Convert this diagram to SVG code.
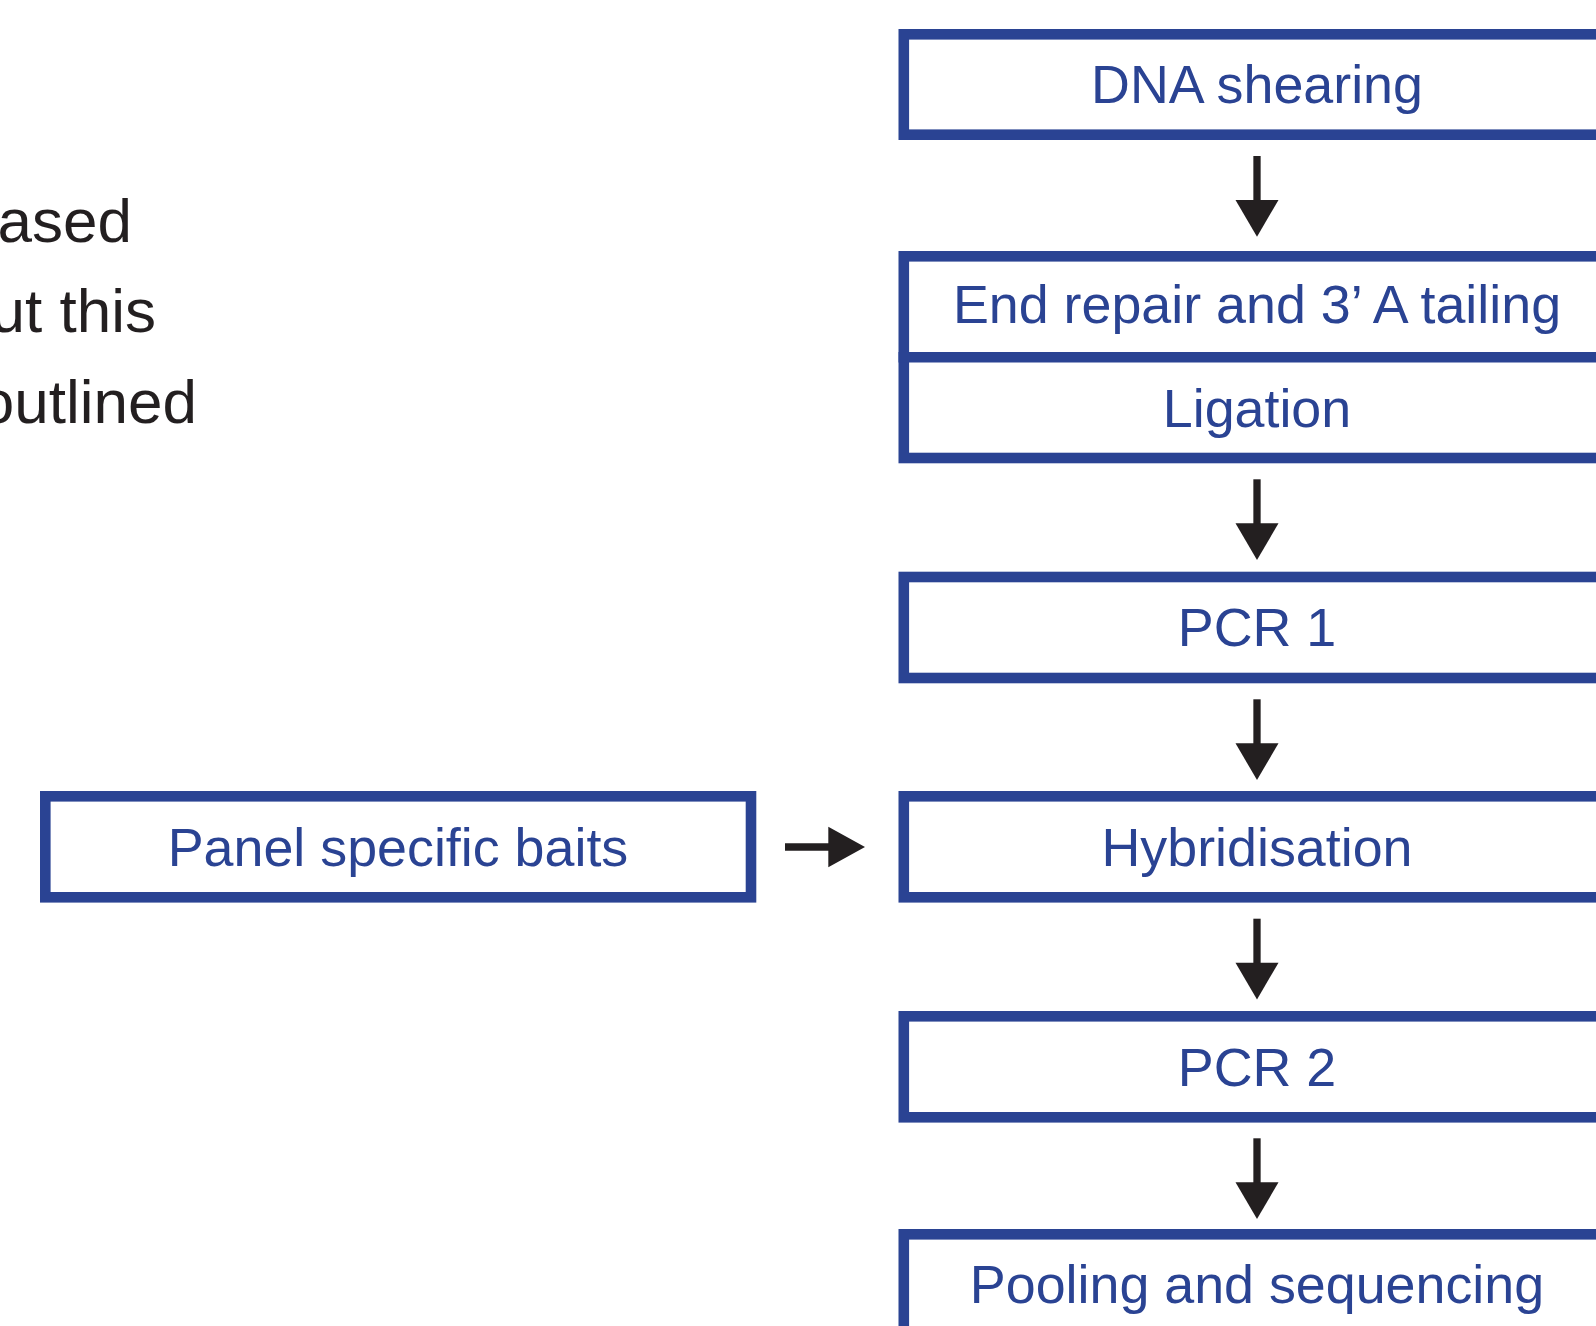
<svg xmlns="http://www.w3.org/2000/svg" width="1596" height="1326" viewBox="0 0 1596 1326">
  <style>
    .box { fill: #ffffff; stroke: #2a4393; stroke-width: 10.6; }
    .label { font-family: "Liberation Sans", Arial, Helvetica, sans-serif; font-size: 53.8px; fill: #2a4393; text-anchor: middle; }
    .side { font-family: "Liberation Sans", Arial, Helvetica, sans-serif; font-size: 62px; fill: #231f20; text-anchor: end; }
    .shaft { stroke: #231f20; stroke-width: 7.3; fill: none; }
    .head { fill: #231f20; }
  </style>

  <rect width="1596" height="1326" fill="#ffffff"/>

  <!-- paragraph text running in from the left edge -->
  <g id="side-text">
    <text class="side" x="132" y="241.5">ased</text>
    <text class="side" x="156" y="331.5">ut this</text>
    <text class="side" x="197" y="423">outlined</text>
  </g>

  <!-- workflow steps -->
  <g id="dna-shearing">
    <rect class="box" x="903.8" y="34.3" width="800" height="100.4"/>
    <text class="label" x="1257" y="103.3">DNA shearing</text>
  </g>

  <g id="end-repair-ligation">
    <rect class="box" x="903.8" y="256.3" width="800" height="201.7"/>
    <line x1="898.5" y1="357.2" x2="1596" y2="357.2" stroke="#2a4393" stroke-width="10.6"/>
    <text class="label" x="1257" y="322.5">End repair and 3’ A tailing</text>
    <text class="label" x="1257" y="426.7">Ligation</text>
  </g>

  <g id="pcr-1">
    <rect class="box" x="903.8" y="577" width="800" height="101"/>
    <text class="label" x="1257" y="646.3">PCR 1</text>
  </g>

  <g id="hybridisation">
    <rect class="box" x="903.8" y="796.3" width="800" height="101"/>
    <text class="label" x="1257" y="866">Hybridisation</text>
  </g>

  <g id="panel-baits">
    <rect class="box" x="45.3" y="796.3" width="705.7" height="101"/>
    <text class="label" x="398" y="866">Panel specific baits</text>
  </g>

  <g id="pcr-2">
    <rect class="box" x="903.8" y="1016.3" width="800" height="101"/>
    <text class="label" x="1257" y="1085.7">PCR 2</text>
  </g>

  <g id="pooling-sequencing">
    <rect class="box" x="903.8" y="1234.3" width="800" height="200"/>
    <text class="label" x="1257" y="1302.5">Pooling and sequencing</text>
  </g>

  <!-- connectors -->
  <g id="connectors">
    <line class="shaft" x1="1257" y1="156" x2="1257" y2="202"/>
    <polygon class="head" points="1235.5,200 1278.5,200 1257,236.7"/>

    <line class="shaft" x1="1257" y1="479.3" x2="1257" y2="525.3"/>
    <polygon class="head" points="1235.5,523.3 1278.5,523.3 1257,560"/>

    <line class="shaft" x1="1257" y1="699.3" x2="1257" y2="745.3"/>
    <polygon class="head" points="1235.5,743.3 1278.5,743.3 1257,780"/>

    <line class="shaft" x1="1257" y1="918.7" x2="1257" y2="964.7"/>
    <polygon class="head" points="1235.5,962.7 1278.5,962.7 1257,999.4"/>

    <line class="shaft" x1="1257" y1="1138.3" x2="1257" y2="1184.3"/>
    <polygon class="head" points="1235.5,1182.3 1278.5,1182.3 1257,1219"/>

    <line class="shaft" x1="785" y1="847" x2="830" y2="847"/>
    <polygon class="head" points="828.3,826.7 828.3,867.3 865,847"/>
  </g>
</svg>
